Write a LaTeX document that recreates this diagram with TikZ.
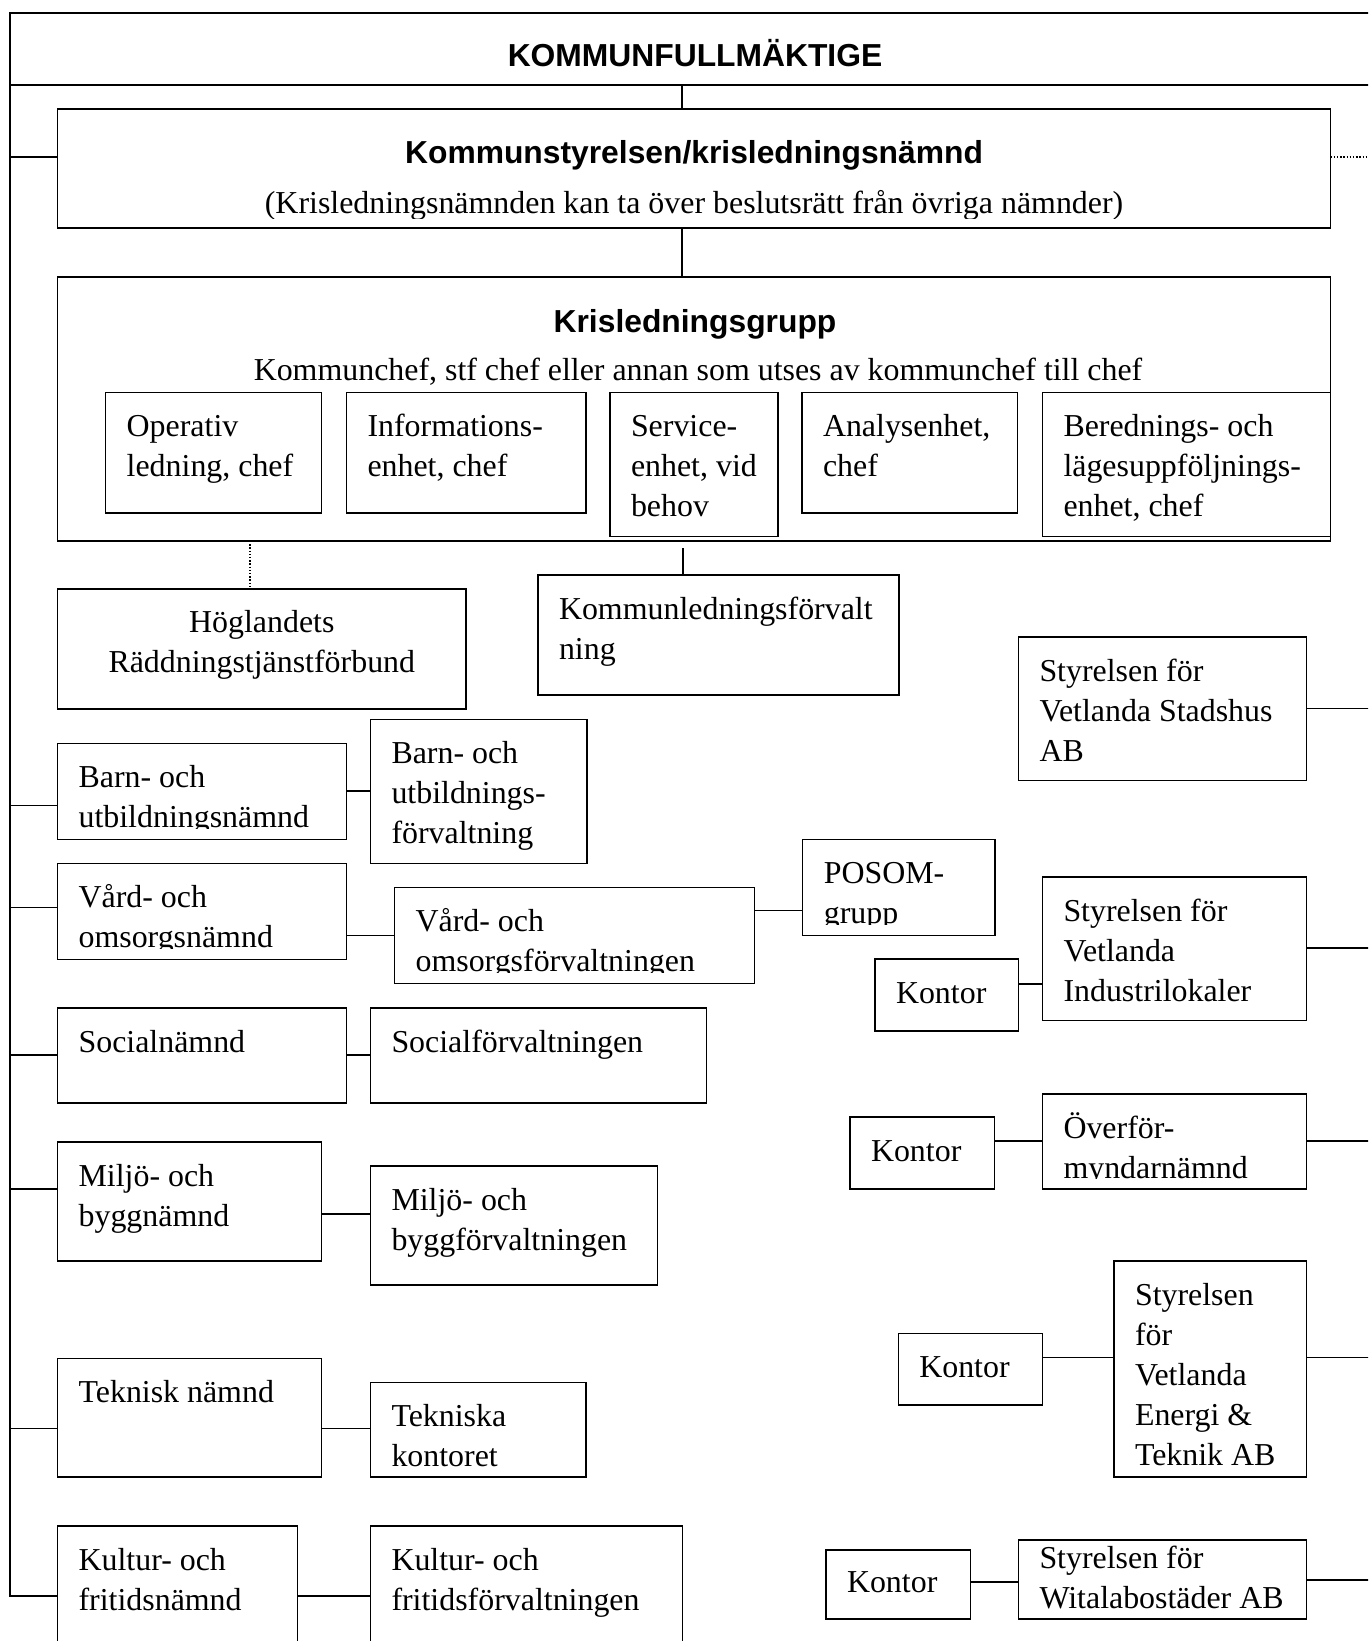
\documentclass[tikz,border=0pt]{standalone}
\usepackage{fontspec}
\setmainfont{Liberation Serif}
\setsansfont{Liberation Sans}
\tikzset{
  every node/.style={font=\fontsize{31.9pt}{40pt}\selectfont},
  box/.style={draw, line width=1.3pt, inner sep=0pt, outer sep=0pt, anchor=north west},
  ln/.style={line width=1.3pt},
  dotln/.style={line width=1.3pt, dash pattern=on 1.4pt off 1.8pt},
  plain/.style={draw=none, inner sep=0pt, outer sep=0pt, minimum width=0pt, minimum height=0pt},
  title/.style={plain, font=\fontsize{31.8pt}{40pt}\selectfont\sffamily\bfseries}
}
\newcommand\txtl[1]{\begin{tabular}[t]{@{}l@{}}#1\end{tabular}}
\newcommand\txtc[1]{\begin{tabular}[t]{@{}c@{}}#1\end{tabular}}
% box with top-left text, clipped near the bottom
\newcommand\tbox[7][44]{%
\node[box, minimum width={#5pt-#3pt}, minimum height={#6pt-#4pt},
 path picture={\clip (path picture bounding box.north west) rectangle ([yshift=11pt]path picture bounding box.south east);
 \node[plain, anchor=base west] (#2-t) at ([xshift=21pt,yshift=-#1pt]path picture bounding box.north west) {\txtl{#7}};}] (#2) at (#3,#4) {};}
% small "Kontor" box
\newcommand\kbox[5]{%
\node[box, minimum width={#4pt-#2pt}, minimum height={#5pt-#3pt},
 path picture={\node[plain, anchor=base west] (#1-t) at ([xshift=21pt,yshift=-8pt]path picture bounding box.west) {Kontor};}] (#1) at (#2,#3) {};}
\begin{document}
\begin{tikzpicture}[x=1pt,y=-1pt]
\useasboundingbox (0,0) rectangle (1368,1641);
\clip (0,0) rectangle (1368,1641);

% KOMMUNFULLMÄKTIGE band
\node[box, minimum width=1400pt, minimum height=72pt] (kfb) at (10,13) {};
\node[title, anchor=base] (kft) at (695,66.5) {KOMMUNFULLMÄKTIGE};

% Kommunstyrelsen
\node[box, line width=1.5pt, minimum width={1330.5pt-57.6pt}, minimum height={228pt-109pt},
 path picture={\clip (path picture bounding box.north west) rectangle ([yshift=10pt]path picture bounding box.south east);
  \node[title, anchor=base] (ks-t) at ([yshift=-54.5pt]path picture bounding box.north) {Kommunstyrelsen/krisledningsnämnd};
  \node[plain, anchor=base] (ks-s) at ([yshift=-104pt]path picture bounding box.north) {(Krisledningsnämnden kan ta över beslutsrätt från övriga nämnder)};}] (ks) at (57.6,109) {};

% Krisledningsgrupp
\node[box, line width=1.5pt, minimum width={1330.5pt-57.6pt}, minimum height={541pt-277pt}] (kg) at (57.6,277) {};
\node[title, anchor=base] (kg-t) at (695,332) {Krisledningsgrupp};
\node[plain, anchor=base] (kg-s) at (698,380) {Kommunchef, stf chef eller annan som utses av kommunchef till chef};

\tbox{op}{105.7}{392.5}{321.5}{513}{Operativ\\ledning, chef}
\tbox{inf}{346.5}{392.5}{586}{513}{Informations-\\enhet, chef}
\tbox{ser}{610}{392.5}{778}{536.5}{Service-\\enhet, vid\\behov}
\tbox{ana}{802}{392.5}{1017.5}{513}{Analysenhet,\\chef}
\tbox{ber}{1042.5}{392.5}{1330.5}{536.5}{Berednings- och\\lägesuppföljnings-\\enhet, chef}

% Höglandets
\node[box, minimum width={466pt-57.6pt}, minimum height={709pt-589pt},
 path picture={\node[plain, anchor=base] (hog-t) at ([yshift=-43pt]path picture bounding box.north) {\txtc{Höglandets\\Räddningstjänstförbund}};}] (hog) at (57.6,589) {};

\tbox{kl}{538}{575}{899}{695}{Kommunledningsförvalt\\ning}

% left column
\tbox{bn}{57.6}{743.5}{346.5}{839.5}{Barn- och\\utbildningsnämnd}
\tbox{bf}{370.5}{719.3}{587}{863.3}{Barn- och\\utbildnings-\\förvaltning}
\tbox{vn}{57.6}{863.3}{346.5}{959.3}{Vård- och\\omsorgsnämnd}
\tbox{vf}{394.6}{887.3}{754.7}{983.3}{Vård- och\\omsorgsförvaltningen}
\tbox{pos}{802.8}{839.4}{995}{935.7}{POSOM-\\grupp}
\tbox{sn}{57.6}{1008}{346.5}{1103}{Socialnämnd}
\tbox{sf}{370.5}{1008}{706.5}{1103}{Socialförvaltningen}
\tbox{mn}{57.6}{1142}{321.5}{1261}{Miljö- och\\byggnämnd}
\tbox{mf}{370.5}{1166}{657.5}{1285}{Miljö- och\\byggförvaltningen}
\tbox{tn}{57.6}{1358.6}{321.5}{1477}{Teknisk nämnd}
\tbox{tf}{370.5}{1382.6}{586}{1477}{Tekniska\\kontoret}
\tbox{kn}{57.6}{1526}{297.3}{1680}{Kultur- och\\fritidsnämnd}
\tbox{kff}{370.5}{1526}{682.4}{1680}{Kultur- och\\fritidsförvaltningen}

% right column
\tbox{sta}{1018.5}{637}{1306.5}{780.5}{Styrelsen för\\Vetlanda Stadshus\\AB}
\tbox{ind}{1042.5}{877}{1306.5}{1020.5}{Styrelsen för\\Vetlanda\\Industrilokaler}
\kbox{k1}{875}{959}{1018.5}{1031}
\tbox{ovf}{1042.5}{1094}{1306.5}{1189}{Överför-\\myndarnämnd}
\kbox{k2}{850}{1117}{994.5}{1189}
\tbox{ene}{1114}{1261}{1306.5}{1477}{Styrelsen\\för\\Vetlanda\\Energi \&\\Teknik AB}
\kbox{k3}{898.3}{1333.3}{1042.7}{1405}
\tbox[28]{wit}{1018.5}{1540}{1306.5}{1619}{Styrelsen för\\Witalabostäder AB}
\kbox{k4}{826}{1550}{970.3}{1619}

% free ends
\coordinate (ksr) at (1370,157);
\coordinate (klc) at (683,548);
\coordinate (r1) at (1370,708.6);
\coordinate (r2) at (1370,948);
\coordinate (r3) at (1370,1141);
\coordinate (r4) at (1370,1357.5);
\coordinate (r5) at (1370,1580);

% connectors
\draw[ln] (kfb.south -| 682,0) -- (ks.north -| 682,0);
\draw[ln] (ks.south -| 682,0) -- (kg.north -| 682,0);
\draw[dotln] (ks.east |- ksr) -- (ksr);
\draw[dotln] (kg.south -| 250,0) -- (hog.north -| 250,0);
\draw[ln] (klc) -- (kl.north -| klc);

% left bus
\draw[ln] (kfb.south west) |- (kn.west |- 0,1596);
\draw[ln] (kfb.south west |- 0,157) -- (ks.west |- 0,157);
\draw[ln] (kfb.south west |- 0,805.3) -- (bn.west |- 0,805.3);
\draw[ln] (kfb.south west |- 0,907.7) -- (vn.west |- 0,907.7);
\draw[ln] (kfb.south west |- 0,1055) -- (sn.west |- 0,1055);
\draw[ln] (kfb.south west |- 0,1189) -- (mn.west |- 0,1189);
\draw[ln] (kfb.south west |- 0,1428.5) -- (tn.west |- 0,1428.5);

% nämnd to förvaltning
\draw[ln] (bn.east |- 0,791) -- (bf.west |- 0,791);
\draw[ln] (vn.east |- 0,935.3) -- (vf.west |- 0,935.3);
\draw[ln] (vf.east |- 0,910.7) -- (pos.west |- 0,910.7);
\draw[ln] (sn.east |- 0,1055) -- (sf.west |- 0,1055);
\draw[ln] (mn.east |- 0,1214) -- (mf.west |- 0,1214);
\draw[ln] (tn.east |- 0,1428.7) -- (tf.west |- 0,1428.7);
\draw[ln] (kn.east |- 0,1596) -- (kff.west |- 0,1596);

% right side
\draw[ln] (sta.east |- r1) -- (r1);
\draw[ln] (ind.east |- r2) -- (r2);
\draw[ln] (k1.east |- 0,984) -- (ind.west |- 0,984);
\draw[ln] (ovf.east |- r3) -- (r3);
\draw[ln] (k2.east |- 0,1141) -- (ovf.west |- 0,1141);
\draw[ln] (ene.east |- r4) -- (r4);
\draw[ln] (k3.east |- 0,1357.3) -- (ene.west |- 0,1357.3);
\draw[ln] (wit.east |- r5) -- (r5);
\draw[ln] (k4.east |- 0,1582) -- (wit.west |- 0,1582);
\end{tikzpicture}
\end{document}
